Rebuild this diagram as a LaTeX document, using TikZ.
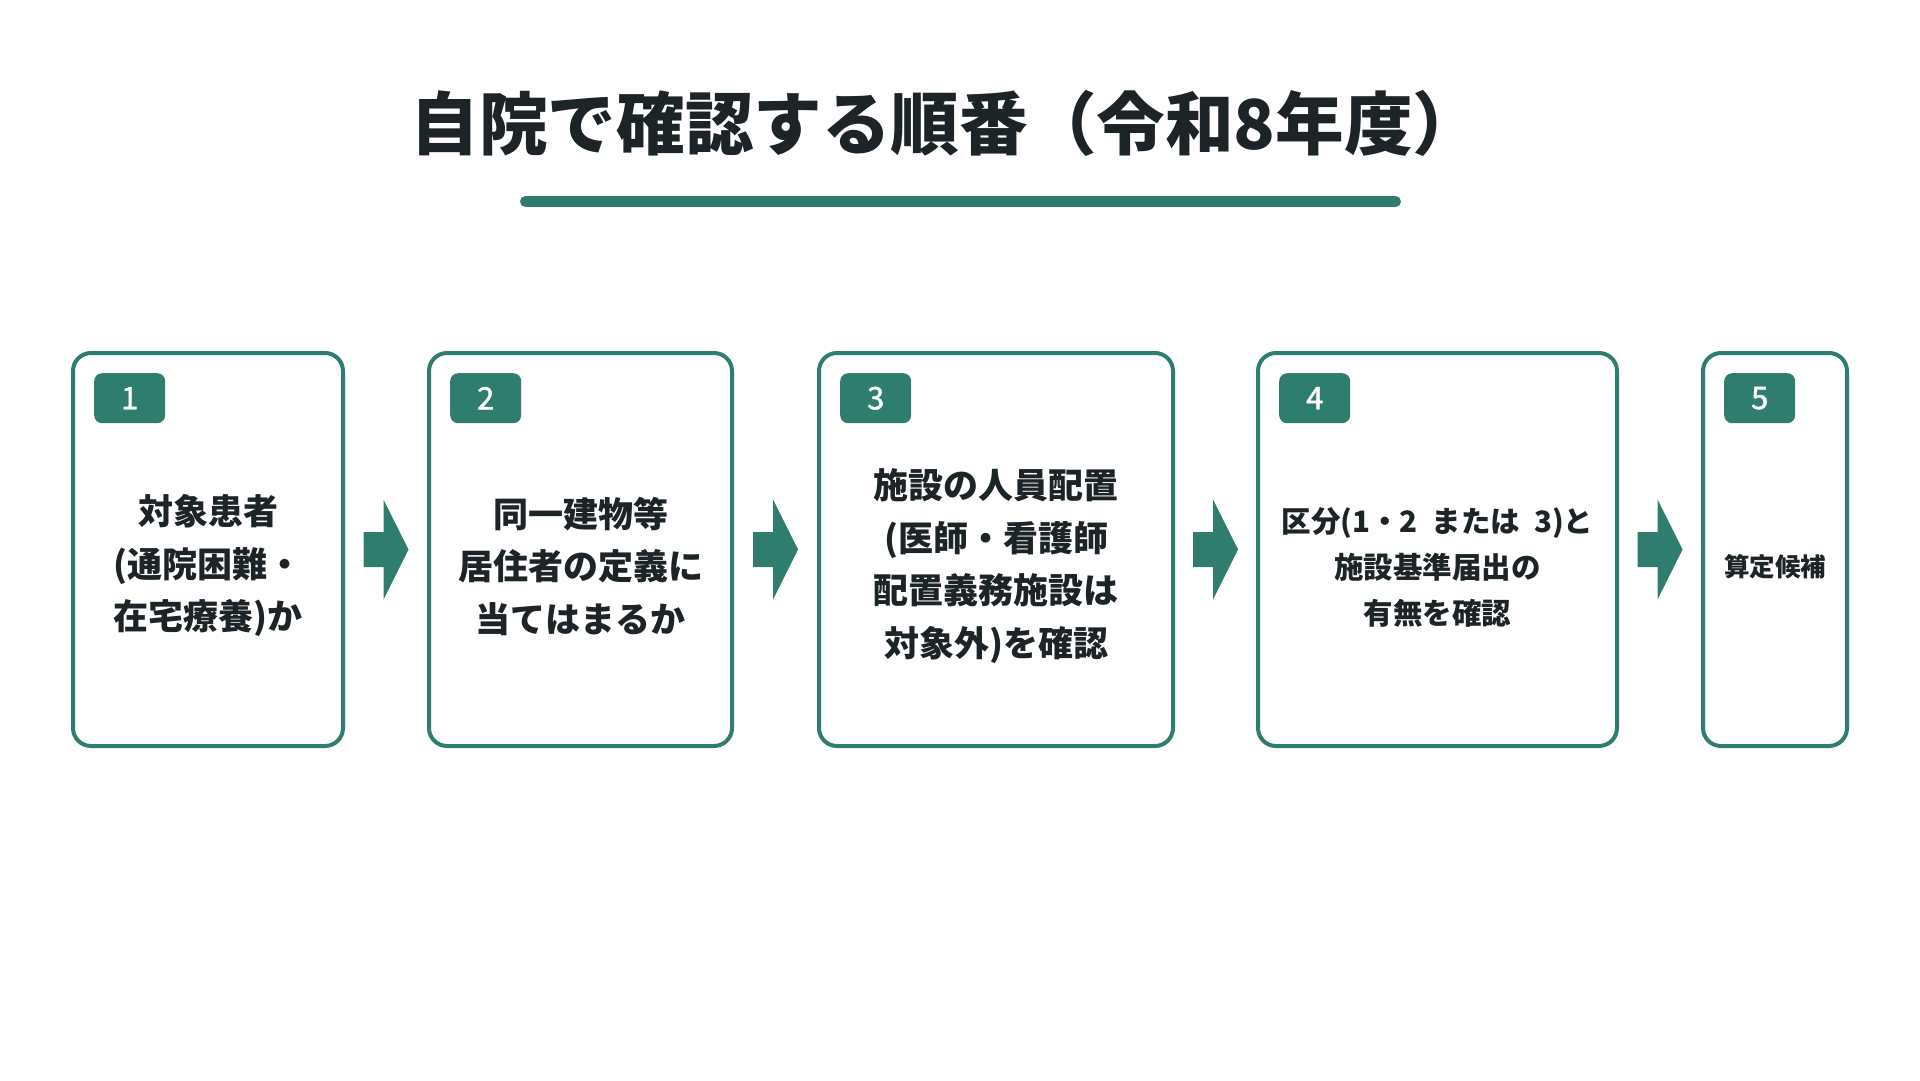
\documentclass[tikz,border=0pt]{standalone}
\usepackage{fontspec}
\newfontfamily\jpfont{Noto Sans CJK JP}
\newfontfamily\jpmid{Noto Sans CJK JP}[FakeBold=1.4]
\usetikzlibrary{calc}
\definecolor{stepgreen}{HTML}{2E7D6E}
\definecolor{inkdark}{HTML}{1C2427}

\begin{document}
\begin{tikzpicture}[x=1pt, y=-1pt,
  every node/.style = {font=\jpfont, inner sep=0pt},
  stepbox/.style = {draw=stepgreen, line width=4pt, rounded corners=18pt,
    minimum height=393pt},
  badge/.style = {fill=stepgreen, rounded corners=8pt, anchor=north west,
    minimum width=71pt, minimum height=50pt, text=white,
    font=\jpmid\fontsize{31}{31}\selectfont},
  steptext/.style = {align=center, text=inkdark,
    font=\jpfont\bfseries\fontsize{35}{52.5}\selectfont}]
  \fill[white] (0,0) rectangle (1920,1080);
  \useasboundingbox (0,0) rectangle (1920,1080);

  \node[text=inkdark, font=\jpfont\bfseries\fontsize{68.6}{68.6}\selectfont]
    (title) at (946,123) {自院で確認する順番（令和8年度）};
  \draw[stepgreen, line width=11pt, line cap=round] (525.5,201.5) -- (1395.5,201.5);

  \node[stepbox, minimum width=270pt] (s1) at (208,549.5) {};
  \node[stepbox, minimum width=303pt] (s2) at (580.5,549.5) {};
  \node[stepbox, minimum width=354pt] (s3) at (996,549.5) {};
  \node[stepbox, minimum width=359pt] (s4) at (1437.5,549.5) {};
  \node[stepbox, minimum width=144pt] (s5) at (1775,549.5) {};

  \foreach \i in {1,...,5}
    \node[badge] (b\i) at ([shift={(23,22)}]s\i.north west) {\i};

  \node[steptext] (t1) at ([yshift=-16.5pt]s1.center)
    {対象患者\\(通院困難・\\在宅療養)か};
  \node[steptext] (t2) at ([yshift=-16.5pt]s2.center)
    {同一建物等\\居住者の定義に\\当てはまるか};
  \node[steptext] (t3) at ([yshift=-16.5pt]s3.center)
    {施設の人員配置\\(医師・看護師\\配置義務施設は\\対象外)を確認};
  \node[steptext, font=\jpfont\bfseries\fontsize{29.5}{46}\selectfont]
    (t4) at ([yshift=-18pt]s4.center)
    {区分(1・2\hspace{0.47em}または\hspace{0.47em}3)と\\施設基準届出の\\有無を確認};
  \node[steptext, font=\jpfont\bfseries\fontsize{25.5}{30}\selectfont]
    (t5) at ([yshift=-17.5pt]s5.center) {算定候補};

  \foreach \a/\b in {1/2,2/3,3/4,4/5}
    \fill[stepgreen] ($(s\a.east)!0.5!(s\b.west)$) ++(-22.5,-17.5)
      -- ++(20,0) -- ++(0,-32.5) -- ++(25,50) -- ++(-25,50)
      -- ++(0,-32.5) -- ++(-20,0) -- cycle;
\end{tikzpicture}
\end{document}
